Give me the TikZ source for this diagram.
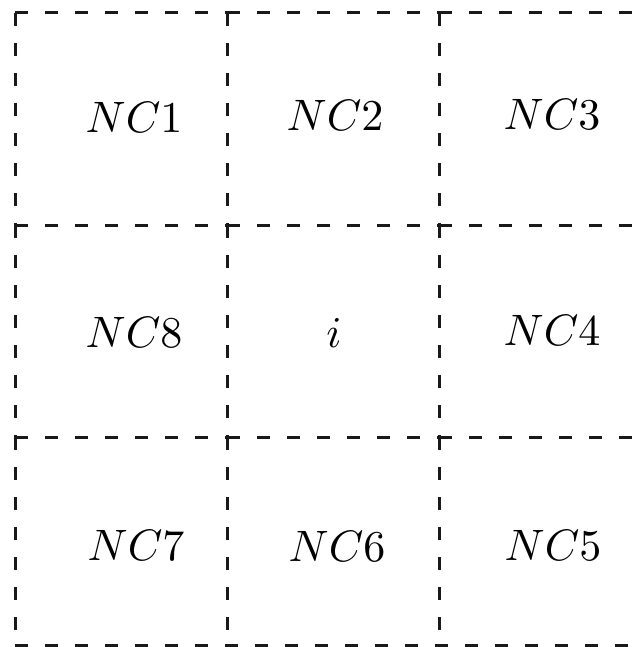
\documentclass[tikz,border=0pt]{standalone}
\begin{document}
\begin{tikzpicture}[x=1pt,y=-1pt,
  grid/.style={line width=3pt,dash pattern=on 13pt off 17pt,black!90},
  lbl/.style={scale=4.4,anchor=base,inner sep=0pt}]
\useasboundingbox (0,0) rectangle (643,647);
% columns x: 15, 227, 439 ; rows y: 13, 225, 437, 645
\foreach \x/\nx in {15/227,227/439,439/643}{
  \foreach \y/\ny in {13/225,225/437,437/645}{
    \draw[grid] (\x,\y) -- (\nx,\y);
    \draw[grid] (\x,\y) -- (\x,\ny);
  }
}
\draw[grid] (15,645) -- (643,645);
\node[lbl] (c1) at (134,133) {$NC1$};
\node[lbl] (c2) at (335,131) {$NC2$};
\node[lbl] (c3) at (552,130) {$NC3$};
\node[lbl] (c8) at (134,347) {$NC8$};
\node[lbl] (ci) at (334,347) {$i$};
\node[lbl] (c4) at (552,345) {$NC4$};
\node[lbl] (c7) at (136,560) {$NC7$};
\node[lbl] (c6) at (337,561) {$NC6$};
\node[lbl] (c5) at (553,560) {$NC5$};
\end{tikzpicture}
\end{document}
